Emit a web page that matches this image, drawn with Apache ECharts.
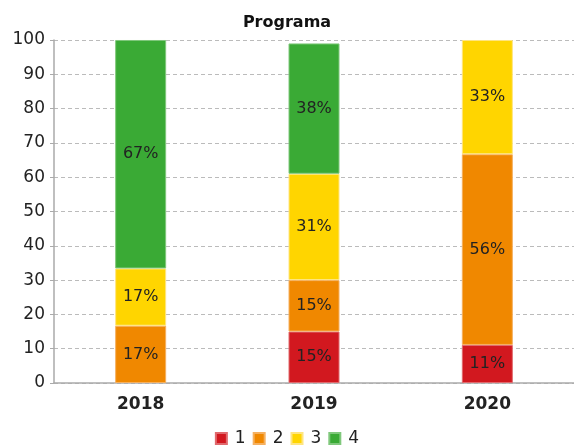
<!DOCTYPE html>
<html><head><meta charset="utf-8">
<script src="https://cdn.jsdelivr.net/npm/echarts@6/dist/echarts.min.js"></script>
<style>html,body{margin:0;padding:0;background:#fff}#c{width:574px;height:445px}</style>
</head><body><div id="c"></div>
<script>
const categories = ['2018', '2019', '2020'];
const seriesNames = ['1', '2', '3', '4'];
const s1 = [0, 15, 11.1];
const s2 = [16.7, 15, 55.6];
const s3 = [16.7, 31, 33.3];
const s4 = [66.6, 38, 0];
const colors = ['#d2181f', '#f08800', '#ffd500', '#3aaa35'];
const borders = ['#e06a6e', '#f5b060', '#ffe580', '#80c87c'];

const chart = echarts.init(document.getElementById('c'));
const data = [s1, s2, s3, s4];
chart.setOption({
  animation: false,
  title: { text: 'Programa', left: 'center', top: 10,
    textStyle: { fontFamily: 'DejaVu Sans', fontWeight: 'bold', fontSize: 16, color: '#111' } },
  legend: { bottom: -7, left: 'center', itemWidth: 11, itemHeight: 11, itemGap: 7,
    icon: 'rect', textStyle: { fontFamily: 'DejaVu Sans', fontSize: 17, color: '#222', padding: [0, 0, 0, 3] },
    data: seriesNames },
  grid: { left: 54, top: 40, width: 523, bottom: 62 },
  xAxis: { type: 'category', data: categories,
    axisLine: { lineStyle: { color: '#aaa', width: 1.5 } },
    axisTick: { alignWithLabel: true, length: 5, lineStyle: { color: '#888' } },
    axisLabel: { fontFamily: 'DejaVu Sans', fontWeight: 'bold', fontSize: 17, color: '#222', margin: 13 } },
  yAxis: { type: 'value', min: 0, max: 100, interval: 10,
    axisLine: { show: true, lineStyle: { color: '#aaa', width: 1.5 } },
    axisTick: { show: true, length: 4, lineStyle: { color: '#aaa' } },
    axisLabel: { fontFamily: 'DejaVu Sans', fontSize: 17, color: '#222', margin: 9 },
    splitLine: { lineStyle: { color: '#bbb', type: [4, 3] } } },
  series: data.map((d, i) => ({
    name: seriesNames[i], type: 'bar', stack: 'a', barWidth: 51,
    data: d.map(v => v === 0 ? null : v),
    itemStyle: { color: colors[i], borderColor: borders[i], borderWidth: 1 },
    label: { show: true, position: 'inside', fontFamily: 'DejaVu Sans', fontSize: 16, color: '#222',
      formatter: p => Math.round(p.value) + '%' }
  }))
});
</script></body></html>
